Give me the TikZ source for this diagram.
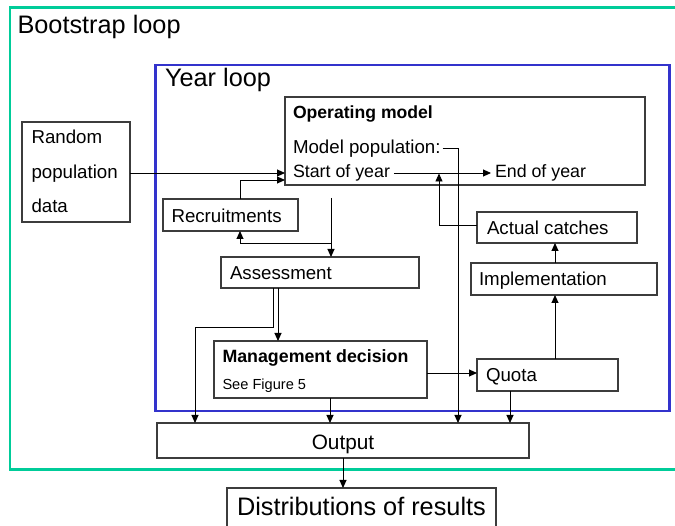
\documentclass[tikz,border=0pt]{standalone}
\usepackage{fontspec}
\setmainfont{Liberation Sans}
\usetikzlibrary{arrows.meta}
\definecolor{bootgreen}{RGB}{0,204,153}
\definecolor{yearblue}{RGB}{51,51,204}
\definecolor{boxgray}{RGB}{60,60,60}
\tikzset{
  frame/.style={draw, line width=2.6pt, inner sep=0pt, outer sep=0pt, anchor=north west},
  box/.style={draw=boxgray, line width=1.2pt, inner sep=0pt, outer sep=0pt, anchor=north west},
  txt/.style={inner sep=0pt, outer sep=0pt, anchor=base west, font=\fontsize{18.7}{22}\selectfont},
  bigtxt/.style={inner sep=0pt, outer sep=0pt, anchor=base west, font=\fontsize{25.3}{30}\selectfont},
  arr/.style={draw=black, line width=0.9pt, -{Triangle[length=8pt,width=7pt]}},
  ln/.style={draw=black, line width=0.9pt}
}
\begin{document}
\begin{tikzpicture}[x=1pt,y={(0pt,-1pt)}]
\clip (0,0) rectangle (675,526);
\fill[white] (0,0) rectangle (675,526);
% frames
\node[frame, draw=bootgreen, minimum width=667pt, minimum height=462pt] (boot) at (10,7.5) {};
\node[bigtxt] (bootT) at (17.5,34) {Bootstrap loop};
\node[frame, draw=yearblue, minimum width=514pt, minimum height=346pt] (year) at (155.5,65) {};
\node[bigtxt] (yearT) at (165,86.5) {Year loop};
% boxes
\node[box, minimum width=108pt, minimum height=100pt] (rand) at (22,122) {};
\node[txt] (randT1) at (31.5,144) {Random};
\node[txt] (randT2) at (31.5,179) {population};
\node[txt] (randT3) at (31.5,213) {data};

\node[box, minimum width=360pt, minimum height=88pt] (opm) at (285,97) {};
\node[txt, font=\fontsize{17.6}{21}\selectfont\bfseries] (opmT) at (293,118.5) {Operating model};
\node[txt, inner xsep=2pt] (modelT) at (291,153.5) {Model population:};
\node[txt, inner xsep=4pt, font=\fontsize{17.8}{21}\selectfont] (startT) at (289,177.5) {Start of year};
\node[txt, inner xsep=4pt, font=\fontsize{17.8}{21}\selectfont] (endT) at (491,177.5) {End of year};

\node[box, minimum width=135pt, minimum height=32pt] (recr) at (163,199) {};
\node[txt] (recrT) at (171.5,223) {Recruitments};

\node[box, minimum width=198pt, minimum height=31pt] (assess) at (221,257) {};
\node[txt] (assessT) at (230,279.5) {Assessment};

\node[box, minimum width=213pt, minimum height=57pt] (mgmt) at (214,341) {};
\node[txt, font=\fontsize{17.8}{21}\selectfont\bfseries] (mgmtT) at (222.5,362.5) {Management decision};
\node[txt, font=\fontsize{14.6}{17}\selectfont] (mgmtS) at (222.5,389.5) {See Figure 5};

\node[box, minimum width=160pt, minimum height=31pt] (actual) at (477,212) {};
\node[txt] (actualT) at (487,235) {Actual catches};

\node[box, minimum width=186pt, minimum height=32pt] (impl) at (471,263) {};
\node[txt] (implT) at (479,286) {Implementation};

\node[box, minimum width=141pt, minimum height=32pt] (quota) at (477,359) {};
\node[txt] (quotaT) at (486,382) {Quota};

\node[box, minimum width=372pt, minimum height=35pt] (output) at (157,423) {};
\node[inner sep=0pt, anchor=base, font=\fontsize{20.8}{24}\selectfont] (outputT) at (343,449.5) {Output};

\node[box, minimum width=269pt, minimum height=45pt] (dist) at (227,488) {};
\node[bigtxt] (distT) at (237,515) {Distributions of results};

% connectors
\draw[arr] (rand.east |- 0,173) -- (opm.west |- 0,173);
\draw[arr] (240,0 |- recr.north) -- (240,180) -- (opm.west |- 0,180);
\coordinate (opmout) at (331,198);
\draw[arr] (opmout) -- (331,0 |- assess.north);
\draw[arr] (331,243) -- (240,243) -- (240,0 |- recr.south);
\draw[arr] (278,0 |- assess.south) -- (278,0 |- mgmt.north);
\draw[arr] (273,0 |- assess.south) -- (273,327) -- (195,327) -- (195,0 |- output.north);
\draw[arr] (330,0 |- mgmt.south) -- (330,0 |- output.north);
\draw[arr] (mgmt.east |- 0,373) -- (quota.west |- 0,373);
\draw[arr] (555,0 |- quota.north) -- (555,0 |- impl.south);
\draw[arr] (555,0 |- impl.north) -- (555,0 |- actual.south);
\draw[arr] (510,0 |- quota.south) -- (510,0 |- output.north);
\draw[arr] (actual.west |- 0,225.5) -- (439,225.5) -- (439,173.5);
\draw[arr] (startT.east |- 0,173) -- (endT.west |- 0,173);
\draw[arr] (modelT.east |- 0,148) -- (458,148) -- (458,0 |- output.north);
\draw[arr] (343,0 |- output.south) -- (343,0 |- dist.north);
\end{tikzpicture}
\end{document}
